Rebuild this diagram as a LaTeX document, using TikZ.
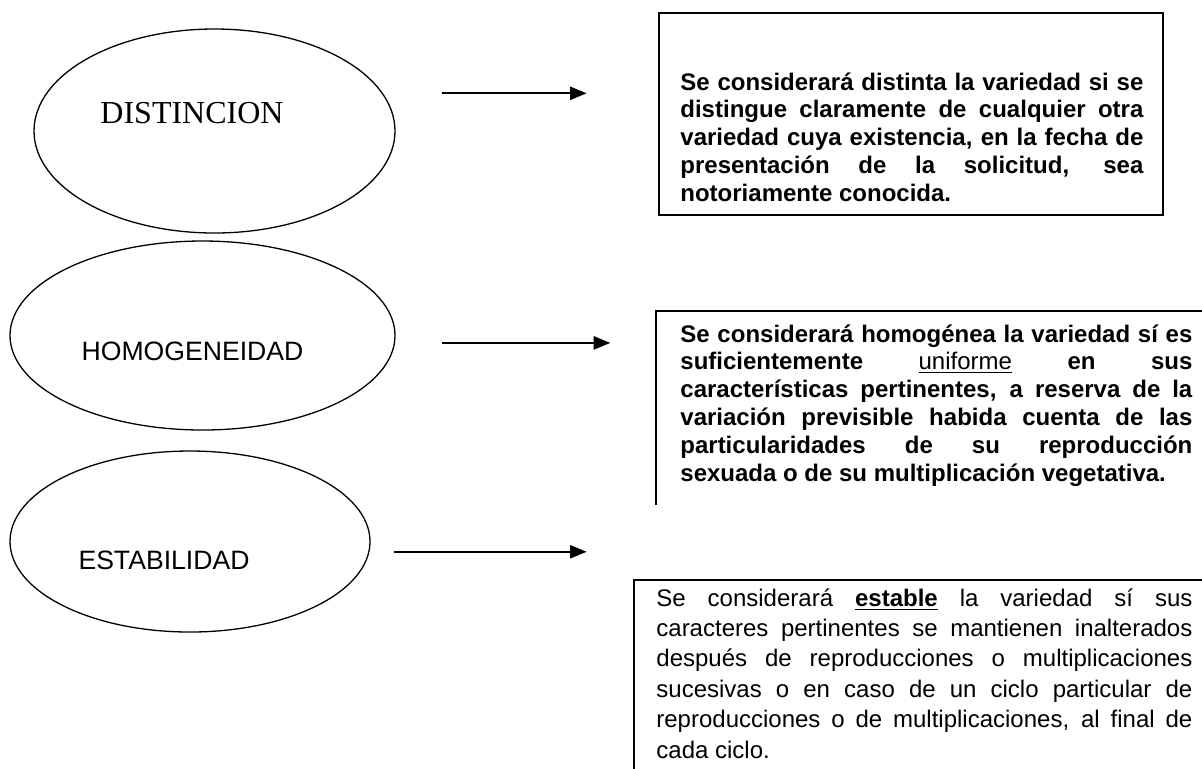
\documentclass[tikz,border=0pt]{standalone}
\usepackage{fontspec}
\setmainfont{Liberation Sans}
\newfontfamily\serifrm{Liberation Serif}
\usepackage{tikz}
\usetikzlibrary{shapes.geometric}
\usetikzlibrary{arrows.meta}
\usetikzlibrary{positioning}
\hyphenpenalty=10000
\exhyphenpenalty=10000
\tolerance=10000
\hbadness=10000

\tikzset{
  oval/.style={ellipse, draw=black, line width=0.65pt, inner sep=0pt},
  ovallabel/.style={inner sep=0pt, anchor=base, font=\fontsize{13.3}{15}\selectfont},
  descbox/.style={rectangle, draw=black, line width=0.9pt, inner sep=0pt},
  desctext/.style={inner sep=0pt, anchor=base west, align=justify, font=\fontsize{12}{13.9}\selectfont\bfseries},
  flecha/.style={line width=0.9pt, -{Triangle[length=8.3pt,width=6.6pt]}}
}

\begin{document}
\begin{tikzpicture}[x=0.5pt, y=-0.5pt]
\useasboundingbox (0,0) rectangle (1202,768);
\clip (0,0) rectangle (1202,768);
% ovals on the left
\node[oval, minimum width=180.5pt, minimum height=102pt] (dist) at (214.5,131) {};
\node[oval, minimum width=192.5pt, minimum height=94.5pt] (homo) at (202.5,335.5) {};
\node[oval, minimum width=180pt, minimum height=90.5pt] (esta) at (190,541.5) {};
\node[ovallabel, font=\serifrm\fontsize{16}{18}\selectfont] (distlbl) at (192,123.5) {DISTINCION};
\node[ovallabel] (homolbl) at (192.5,360) {HOMOGENEIDAD};
\node[ovallabel] (estalbl) at (164,569) {ESTABILIDAD};
% arrows
\coordinate (a1s) at (441.5,93.3);
\coordinate (a1e) at (586.6,93.3);
\coordinate (a2s) at (441.5,342.9);
\coordinate (a2e) at (610.3,342.9);
\coordinate (a3s) at (393.5,551.8);
\coordinate (a3e) at (586.6,551.8);
\draw[flecha] (a1s) to (a1e);
\draw[flecha] (a2s) to (a2e);
\draw[flecha] (a3s) to (a3e);
% boxes on the right
\node[descbox, minimum width=252pt, minimum height=101pt] (dbox) at (911,114) {};
\draw[line width=0.9pt] (656,505) |- (1210,311);
\node[descbox, minimum width=293pt, minimum height=105pt] (ebox) at (927,685) {};
\node[desctext, text width=231.5pt] (dtext) at (680,90) {Se considerará distinta la variedad si se\linebreak distingue claramente de cualquier otra\linebreak variedad cuya existencia, en la fecha de\linebreak presentación de la solicitud, sea\linebreak notoriamente conocida.};
\node[desctext, text width=256pt] (htext) at (680,342) {Se considerará homogénea la variedad sí es\linebreak suficientemente \underline{\mdseries uniforme} en sus\linebreak características pertinentes, a reserva de la\linebreak variación previsible habida cuenta de las\linebreak particularidades de su reproducción\linebreak sexuada o de su multiplicación vegetativa.};
\node[desctext, text width=268pt, font=\fontsize{12}{15.2}\selectfont] (etext) at (656,606) {Se considerará \underline{\textbf{estable}} la variedad sí sus\linebreak caracteres pertinentes se mantienen inalterados\linebreak después de reproducciones o multiplicaciones\linebreak sucesivas o en caso de un ciclo particular de\linebreak reproducciones o de multiplicaciones, al final de\linebreak cada ciclo.};
\end{tikzpicture}
\end{document}
